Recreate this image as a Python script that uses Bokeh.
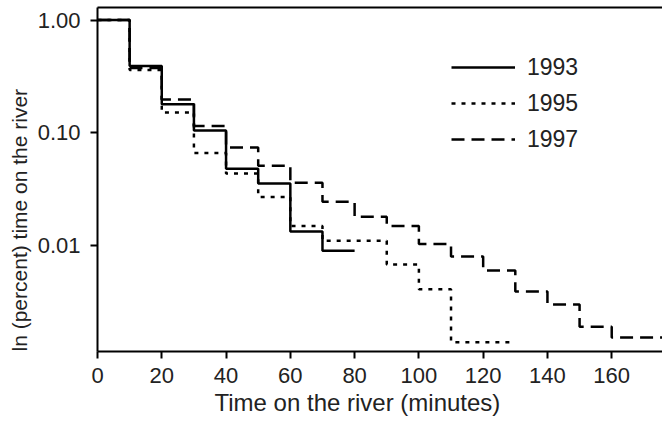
from bokeh.plotting import figure
from bokeh.models import (Range1d, FixedTicker, PrintfTickFormatter, LinearAxis,
                          Legend, Title)
from bokeh.embed import file_html
from bokeh.resources import INLINE

# ---- data ----
minutes_1993 = [0, 10, 20, 30, 40, 50, 60, 70, 80]
surv_1993 = [1.0, 0.39, 0.179, 0.105, 0.048, 0.0355, 0.0133, 0.0090, 0.0090]

minutes_1995 = [0, 10, 20, 30, 40, 50, 60, 70, 80, 90, 100, 110, 120, 130]
surv_1995 = [1.0, 0.36, 0.151, 0.066, 0.0435, 0.027, 0.0149, 0.0110, 0.0110,
             0.0068, 0.0041, 0.00139, 0.00139, 0.00139]

minutes_1997 = [0, 10, 20, 30, 40, 50, 60, 70, 80, 90, 100, 110, 120, 130,
                140, 150, 160, 180]
surv_1997 = [1.0, 0.375, 0.197, 0.115, 0.074, 0.051, 0.036, 0.0244, 0.018,
             0.0149, 0.0103, 0.0080, 0.0060, 0.0039, 0.0030, 0.0019, 0.00153,
             0.00153]

x_ticks = [0, 20, 40, 60, 80, 100, 120, 140, 160]
y_ticks = [0.01, 0.1, 1.0]
series_names = ["1993", "1995", "1997"]

x_title = "Time on the river (minutes)"
y_title = "ln (percent) time on the river"

FONT = "Liberation Sans"
TXT = "#222222"

W, H = 662, 421
p = figure(width=W, height=H, output_backend="svg", toolbar_location=None,
           y_axis_type="log",
           x_range=Range1d(0, 175.8),
           y_range=Range1d(10 ** -2.940, 10 ** 0.111),
           min_border_left=97, min_border_right=0, min_border_top=7,
           min_border_bottom=70)
p.outline_line_color = None
p.xgrid.visible = False
p.ygrid.visible = False
p.background_fill_color = "white"
p.border_fill_color = "white"

for ax in (p.xaxis[0], p.yaxis[0]):
    ax.axis_line_width = 2
    ax.axis_line_color = "black"
    ax.major_tick_line_width = 2
    ax.major_tick_line_color = "black"
    ax.major_tick_in = 0
    ax.major_tick_out = 7
    ax.minor_tick_in = 0
    ax.minor_tick_out = 0
    ax.major_label_text_font = FONT
    ax.major_label_text_color = TXT
    ax.major_label_text_font_size = "22px"

p.xaxis[0].ticker = FixedTicker(ticks=x_ticks)
p.xaxis[0].major_label_standoff = 9
p.yaxis[0].ticker = FixedTicker(ticks=y_ticks)
p.yaxis[0].formatter = PrintfTickFormatter(format="%.2f")
p.yaxis[0].major_label_standoff = 10

top = LinearAxis(ticker=FixedTicker(ticks=[]), major_label_text_font_size="0px",
                 major_tick_in=0, major_tick_out=0, minor_tick_in=0,
                 minor_tick_out=0, axis_line_width=2, axis_line_color="black")
p.add_layout(top, "above")

styles = {
    "1993": dict(line_dash="solid"),
    "1995": dict(line_dash="4 6"),
    "1997": dict(line_dash="13 7"),
}
data = {
    "1993": (minutes_1993, surv_1993),
    "1995": (minutes_1995, surv_1995),
    "1997": (minutes_1997, surv_1997),
}
items = []
for name in series_names:
    xs, ys = data[name]
    r = p.step(xs, ys, mode="after", line_color="black", line_width=2.5,
               **styles[name])
    items.append((name, [r]))

legend = Legend(items=items, location=(354, 197), orientation="vertical",
                padding=0, margin=0, spacing=6,
                glyph_width=64, glyph_height=30, label_height=30,
                label_standoff=12,
                label_text_font=FONT, label_text_font_size="23px",
                label_text_color=TXT, border_line_color=None,
                background_fill_alpha=0)
p.add_layout(legend, "center")

p.add_layout(Title(text=y_title, align="left", offset=0, standoff=8,
                   text_font=FONT, text_font_size="21px",
                   text_font_style="normal", text_color=TXT), "left")
p.add_layout(Title(text=x_title, align="left", offset=117, standoff=3,
                   text_font=FONT, text_font_size="24px",
                   text_font_style="normal", text_color=TXT), "below")

open("out.html", "w").write(file_html(p, INLINE))
